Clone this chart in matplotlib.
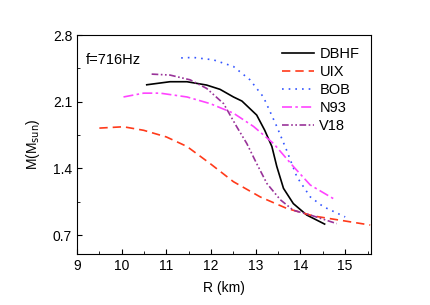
import numpy as np
import matplotlib
matplotlib.use("Agg")
import matplotlib.pyplot as plt
from matplotlib.ticker import MultipleLocator, FormatStrFormatter

plt.rcParams['font.family'] = ['Liberation Sans', 'DejaVu Sans']
plt.rcParams['font.size'] = 10

# --- Data ---
dbhf_r = [10.56, 11.08, 11.46, 11.9, 12.2, 12.5, 12.69, 13.02, 13.2, 13.36, 13.47, 13.62, 13.84, 14.14, 14.54]
dbhf_m = [2.278, 2.31, 2.31, 2.275, 2.23, 2.15, 2.107, 1.96, 1.80, 1.63, 1.42, 1.19, 1.03, 0.91, 0.815]

uix_r = [9.5, 10.04, 10.49, 11.0, 11.46, 11.98, 12.5, 13.1, 13.69, 14.29, 14.96, 15.56]
uix_m = [1.823, 1.837, 1.80, 1.73, 1.63, 1.45, 1.26, 1.10, 0.98, 0.90, 0.85, 0.805]

bob_r = [11.33, 11.6, 12.05, 12.5, 12.87, 13.17, 13.47, 13.69, 13.92, 14.22, 14.51, 15.0]
bob_m = [2.56, 2.565, 2.54, 2.47, 2.33, 2.15, 1.84, 1.59, 1.31, 1.10, 0.998, 0.89]

n93_r = [10.04, 10.49, 10.86, 11.46, 11.98, 12.5, 12.95, 13.4, 13.84, 14.22, 14.78]
n93_m = [2.15, 2.19, 2.19, 2.15, 2.08, 1.98, 1.84, 1.66, 1.42, 1.225, 1.07]

v18_r = [10.67, 11.08, 11.53, 11.9, 12.28, 12.57, 12.8, 13.02, 13.25, 13.55, 13.84, 14.22, 14.81]
v18_m = [2.39, 2.38, 2.33, 2.24, 2.08, 1.84, 1.66, 1.45, 1.24, 1.07, 0.96, 0.91, 0.82]

# --- Plot ---
fig = plt.figure(figsize=(4.31, 3.05), dpi=100)
ax = fig.add_axes([0.1787, 0.167, 0.6823, 0.718])

ax.plot(dbhf_r, dbhf_m, color='black', lw=1.2, ls='-', label='DBHF')
ax.plot(uix_r, uix_m, color='#ff3a1a', lw=1.2, ls=(0, (5, 3)), label='UIX')
ax.plot(bob_r, bob_m, color='#3355ff', lw=1.2, ls=(0, (1, 3)), label='BOB')
ax.plot(n93_r, n93_m, color='#ff44ff', lw=1.2, ls=(0, (6, 2, 1.5, 2)), label='N93')
ax.plot(v18_r, v18_m, color='#993399', lw=1.2, ls=(0, (4, 1.5, 1, 1.5, 1, 1.5)), label='V18')

ax.set_xlim(9, 15.58)
ax.set_ylim(0.5, 2.8)
ax.xaxis.set_major_locator(MultipleLocator(1))
ax.xaxis.set_minor_locator(MultipleLocator(0.5))
ax.yaxis.set_major_locator(MultipleLocator(0.7))
ax.yaxis.set_minor_locator(MultipleLocator(0.35))
ax.tick_params(which='both', direction='in', top=False, right=False)
ax.tick_params(which='major', length=3.5)
ax.tick_params(which='minor', length=2)
ax.yaxis.set_major_formatter(FormatStrFormatter('%.1f'))

ax.set_xlabel('R (km)', labelpad=6)
ax.set_ylabel(r'M(M$_{\mathrm{sun}}$)', labelpad=8)
ax.text(0.03, 0.92, 'f=716Hz', transform=ax.transAxes, va='top', ha='left', fontsize=10.5)

ax.legend(loc='upper right', frameon=False, fontsize=10.5, handlelength=2.2, handletextpad=0.35,
          labelspacing=0.28, borderaxespad=0.5, borderpad=0.3)

plt.savefig('out.png', dpi=100)
